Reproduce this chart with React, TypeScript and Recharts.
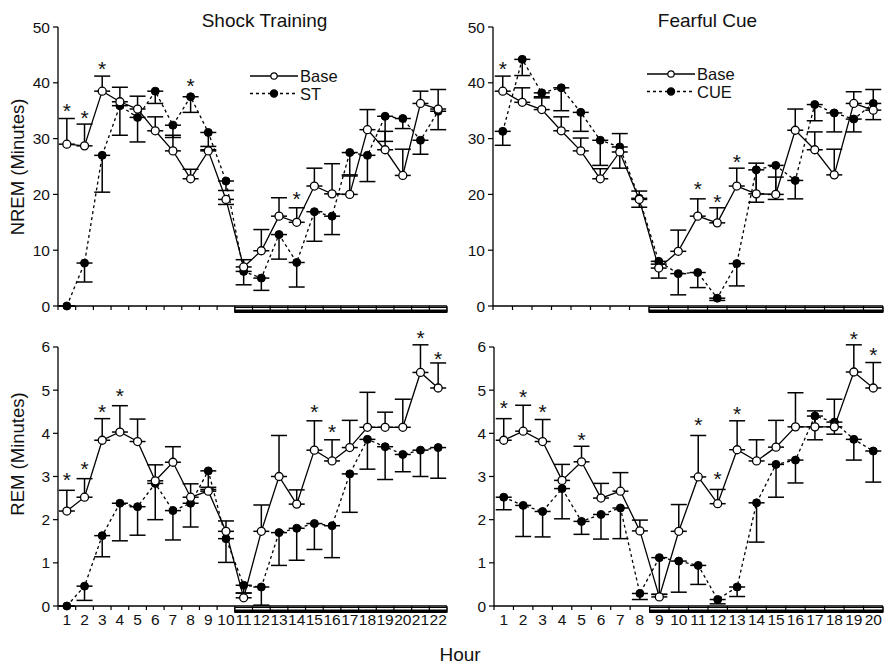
import * as React from "react";
import { ComposedChart, Line, Scatter, XAxis, YAxis, ErrorBar, ReferenceArea, ReferenceLine, Legend } from "recharts";

const FONT = '"Liberation Sans", Arial, Helvetica, sans-serif';

// hours on the x axis
const shockHours = [1, 2, 3, 4, 5, 6, 7, 8, 9, 10, 11, 12, 13, 14, 15, 16, 17, 18, 19, 20, 21, 22];
const cueHours = [1, 2, 3, 4, 5, 6, 7, 8, 9, 10, 11, 12, 13, 14, 15, 16, 17, 18, 19, 20];

// NREM, shock training
const nremShockBase = [29.0, 28.7, 38.5, 36.6, 35.3, 31.4, 27.8, 22.8, 27.8, 19.1, 7.0, 9.9, 16.1, 15.0, 21.5, 20.1, 20.0, 31.6, 28.0, 23.4, 36.3, 35.3];
const nremShockBaseErr = [33.6, 32.6, 41.2, 39.2, 37.6, 33.9, 30.6, 24.5, 28.6, 18.2, 8.3, 13.7, 19.4, 17.6, 24.7, 25.5, 23.3, 35.2, 31.3, 28.1, 38.5, 38.8];
const nremShockST = [0, 7.7, 27.0, 35.9, 33.8, 38.5, 32.4, 37.5, 31.1, 22.4, 6.2, 5.0, 12.8, 7.8, 16.9, 16.1, 27.5, 27.0, 34.0, 33.6, 29.7, 34.9];
const nremShockSTErr = [0, 4.3, 20.4, 30.6, 29.4, 36.3, 30.2, 34.7, 28.0, 20.7, 3.8, 2.8, 8.4, 3.4, 11.6, 12.8, 23.5, 22.3, 29.5, 31.8, 27.2, 31.6];
const nremShockStarHours = [1, 2, 3, 8, 14];
const nremShockStarLevels = [35.8, 34.6, 43.3, 40.3, 20.0];

// NREM, fearful cue
const nremCueBase = [38.5, 36.5, 35.2, 31.4, 27.8, 22.8, 27.6, 19.1, 6.8, 9.8, 16.1, 14.9, 21.5, 20.1, 20.0, 31.5, 28.0, 23.5, 36.3, 35.1];
const nremCueBaseErr = [41.2, 39.1, 37.3, 33.9, 30.1, 24.6, 30.9, 20.6, 7.5, 13.6, 19.2, 17.6, 24.7, 25.6, 23.1, 35.3, 31.2, 28.1, 38.4, 38.8];
const nremCueCUE = [31.3, 44.2, 38.2, 39.1, 34.7, 29.7, 28.5, 19.3, 8.0, 5.8, 6.0, 1.4, 7.6, 24.4, 25.2, 22.5, 36.1, 34.6, 33.5, 36.3];
const nremCueCUEErr = [28.8, 41.3, 37.5, 35.0, 31.3, 25.2, 24.7, 17.7, 5.0, 2.0, 3.3, 1.0, 3.6, 18.6, 19.1, 19.2, 33.2, 31.2, 31.2, 33.4];
const nremCueStarHours = [1, 11, 12, 13];
const nremCueStarLevels = [43.4, 21.8, 19.5, 26.7];

// REM, shock training
const remShockBase = [2.20, 2.52, 3.84, 4.03, 3.81, 2.90, 3.33, 2.52, 2.66, 1.73, 0.19, 1.73, 3.00, 2.36, 3.61, 3.36, 3.67, 4.14, 4.14, 4.14, 5.41, 5.05];
const remShockBaseErr = [2.68, 2.95, 4.34, 4.64, 4.33, 3.27, 3.69, 2.83, 2.75, 1.97, 0.30, 2.34, 3.95, 2.69, 4.29, 3.85, 4.30, 4.95, 4.49, 4.79, 6.05, 5.63];
const remShockST = [0, 0.46, 1.63, 2.38, 2.30, 2.84, 2.21, 2.38, 3.13, 1.56, 0.48, 0.44, 1.70, 1.80, 1.91, 1.86, 3.06, 3.86, 3.69, 3.51, 3.61, 3.67];
const remShockSTErr = [0, 0.13, 1.14, 1.51, 1.64, 2.00, 1.53, 1.83, 2.70, 1.01, 0.30, 0.02, 0.94, 1.06, 1.31, 1.12, 2.17, 3.17, 2.93, 3.11, 3.00, 2.96];
const remShockStarHours = [1, 2, 3, 4, 15, 16, 21, 22];
const remShockStarLevels = [3.03, 3.28, 4.60, 4.98, 4.61, 4.14, 6.32, 5.84];

// REM, fearful cue
const remCueBase = [3.84, 4.05, 3.81, 2.91, 3.34, 2.50, 2.66, 1.74, 0.21, 1.73, 2.99, 2.37, 3.62, 3.36, 3.68, 4.15, 4.15, 4.15, 5.42, 5.05];
const remCueBaseErr = [4.34, 4.65, 4.32, 3.28, 3.70, 2.84, 3.09, 1.99, 0.27, 2.35, 3.95, 2.70, 4.29, 3.85, 4.30, 4.94, 4.52, 4.79, 6.05, 5.64];
const remCueCUE = [2.52, 2.33, 2.19, 2.72, 1.96, 2.12, 2.27, 0.29, 1.12, 1.04, 0.94, 0.15, 0.44, 2.39, 3.28, 3.38, 4.40, 4.26, 3.86, 3.59];
const remCueCUEErr = [2.23, 1.61, 1.60, 2.02, 1.66, 1.55, 1.56, 0.15, 0.27, 0.32, 0.50, 0.05, 0.22, 1.48, 2.52, 2.85, 3.85, 3.98, 3.38, 2.87];
const remCueStarHours = [1, 2, 3, 5, 11, 12, 13, 19, 20];
const remCueStarLevels = [4.70, 4.96, 4.60, 3.95, 4.32, 3.05, 4.57, 6.31, 5.94];

const nremTicks = [0, 10, 20, 30, 40, 50];
const remTicks = [0, 1, 2, 3, 4, 5, 6];

// one-sided error bar: [down, up] from the mean to the end of the bar
const errPair = (v: number, end: number) => (end >= v ? [0, end - v] : [v - end, 0]);

function buildRows(hours: number[], base: number[], baseEnd: number[], treat: number[], treatEnd: number[]) {
  return hours.map((h, i) => ({
    hour: h,
    base: base[i],
    treat: treat[i],
    baseErr: errPair(base[i], baseEnd[i]),
    treatErr: errPair(treat[i], treatEnd[i]),
  }));
}

const buildStars = (hours: number[], levels: number[]) => hours.map((h, i) => ({ hour: h, star: levels[i] }));

const HourTick = (props: any) => {
  const { x, y, payload, showLabels } = props;
  const v = payload.value;
  if (!Number.isInteger(v)) {
    return <line x1={x} y1={y} x2={x} y2={y + 4} stroke="#000" strokeWidth={1.2} />;
  }
  if (!showLabels) return <g />;
  return (
    <text x={x} y={y + 19} textAnchor="middle" fontSize={15.5} fontFamily={FONT} fill="#111">
      {v}
    </text>
  );
};

const StarMark = (props: any) => {
  const { cx, cy } = props;
  return (
    <text x={cx} y={cy + 12} textAnchor="middle" fontSize={21} fontFamily={FONT} fill="#111">
      *
    </text>
  );
};

const LegendBox = ({ payload }: any) => {
  const items = (payload || []).filter((p: any) => p.type !== "none" && (p.dataKey === "base" || p.dataKey === "treat"));
  items.sort((a: any) => (a.dataKey === "base" ? -1 : 1));
  return (
    <svg width={110} height={40} style={{ overflow: "visible" }}>
      {items.map((it: any, i: number) => {
        const cy = 9 + i * 17.5;
        const isBase = it.dataKey === "base";
        return (
          <g key={it.value}>
            <line x1={2} y1={cy} x2={50} y2={cy} stroke="#000" strokeWidth={1.3} strokeDasharray={isBase ? undefined : "3 3"} />
            <circle cx={26} cy={cy} r={isBase ? 3.2 : 3.6} fill={isBase ? "#fff" : "#000"} stroke="#000" strokeWidth={1.2} />
            <text x={52} y={cy + 6} fontSize={16.5} fontFamily={FONT} fill="#111">
              {it.value}
            </text>
          </g>
        );
      })}
    </svg>
  );
};

type PanelProps = {
  left: number;
  top: number;
  width: number;
  height: number;
  margin: { top: number; right: number; bottom: number; left: number };
  yAxisWidth: number;
  xAxisHeight: number;
  hours: number[];
  rows: any[];
  stars: any[];
  treatName: string;
  darkFrom: number;
  yMax: number;
  axisTop: number;
  yTicks: number[];
  showLabels: boolean;
  legendPos?: { left: number; top: number };
};

function Panel(p: PanelProps) {
  const xMin = 0.5;
  const xMax = p.hours[p.hours.length - 1] + 0.5;
  const bounds = [xMin, ...p.hours.map((h) => h + 0.5)];
  const xTicks = p.showLabels ? [...bounds, ...p.hours].sort((a, b) => a - b) : bounds;
  const plotH = p.height - p.margin.top - p.margin.bottom - p.xAxisHeight;
  const u = p.yMax / plotH; // data units per pixel
  return (
    <div style={{ position: "absolute", left: p.left, top: p.top }}>
      <ComposedChart width={p.width} height={p.height} data={p.rows} margin={p.margin}>
        <XAxis
          type="number"
          dataKey="hour"
          domain={[xMin, xMax]}
          ticks={xTicks}
          interval={0}
          height={p.xAxisHeight}
          tickSize={0}
          tickMargin={0}
          tickLine={false}
          axisLine={{ stroke: "#000", strokeWidth: 1.3 }}
          tick={(tp: any) => <HourTick {...tp} showLabels={p.showLabels} />}
        />
        <YAxis
          type="number"
          domain={[0, p.yMax]}
          ticks={p.yTicks}
          interval={0}
          width={p.yAxisWidth}
          tickSize={5}
          tickMargin={3}
          axisLine={false}
          tickLine={{ stroke: "#000", strokeWidth: 1.2 }}
          tick={{ fontSize: 15.5, fill: "#111", fontFamily: FONT }}
        />
        <ReferenceLine
          segment={[
            { x: xMin, y: 0 },
            { x: xMin, y: p.axisTop },
          ]}
          stroke="#000"
          strokeWidth={1.3}
          ifOverflow="visible"
        />
        <ReferenceArea
          x1={p.darkFrom}
          x2={xMax}
          y1={-1.5 * u}
          y2={-6.5 * u}
          ifOverflow="visible"
          fill="#fff"
          fillOpacity={0}
          stroke="#000"
          strokeWidth={1}
        />
        <ReferenceArea
          x1={p.darkFrom}
          x2={xMax}
          y1={-4 * u}
          y2={-6.5 * u}
          ifOverflow="visible"
          fill="#000"
          fillOpacity={1}
          stroke="#000"
          strokeWidth={1}
        />
        <Line
          dataKey="treat"
          name={p.treatName}
          stroke="#000"
          strokeWidth={1.3}
          strokeDasharray="3 3"
          dot={{ r: 4, fill: "#000", stroke: "#000", strokeWidth: 1, strokeDasharray: "" }}
          activeDot={false}
          isAnimationActive={false}
        >
          <ErrorBar dataKey="treatErr" direction="y" width={8} stroke="#000" strokeWidth={1.5} />
        </Line>
        <Line
          dataKey="base"
          name="Base"
          stroke="#000"
          strokeWidth={1.3}
          dot={{ r: 4, fill: "#fff", stroke: "#000", strokeWidth: 1.3 }}
          activeDot={false}
          isAnimationActive={false}
        >
          <ErrorBar dataKey="baseErr" direction="y" width={8} stroke="#000" strokeWidth={1.5} />
        </Line>
        <Scatter data={p.stars} dataKey="star" shape={StarMark} legendType="none" isAnimationActive={false} />
        {p.legendPos && (
          <Legend
            layout="vertical"
            align="center"
            verticalAlign="middle"
            content={LegendBox}
            wrapperStyle={{ left: p.legendPos.left, top: p.legendPos.top, width: 110, height: 40 }}
          />
        )}
      </ComposedChart>
    </div>
  );
}

export default function App() {
  const nremShockRows = buildRows(shockHours, nremShockBase, nremShockBaseErr, nremShockST, nremShockSTErr);
  const nremCueRows = buildRows(cueHours, nremCueBase, nremCueBaseErr, nremCueCUE, nremCueCUEErr);
  const remShockRows = buildRows(shockHours, remShockBase, remShockBaseErr, remShockST, remShockSTErr);
  const remCueRows = buildRows(cueHours, remCueBase, remCueBaseErr, remCueCUE, remCueCUEErr);

  return (
    <div style={{ position: "absolute", left: 0, top: 0, width: 884, height: 664, background: "#fff", overflow: "hidden" }}>
      <Panel
        left={0}
        top={0}
        width={450}
        height={330}
        margin={{ top: 27, right: 3, bottom: 0, left: 0 }}
        yAxisWidth={58}
        xAxisHeight={24}
        hours={shockHours}
        rows={nremShockRows}
        stars={buildStars(nremShockStarHours, nremShockStarLevels)}
        treatName="ST"
        darkFrom={10.5}
        yMax={50}
        axisTop={50}
        yTicks={nremTicks}
        showLabels={false}
        legendPos={{ left: 248, top: 67 }}
      />
      <Panel
        left={440}
        top={0}
        width={444}
        height={330}
        margin={{ top: 27, right: 1, bottom: 0, left: 0 }}
        yAxisWidth={53}
        xAxisHeight={24}
        hours={cueHours}
        rows={nremCueRows}
        stars={buildStars(nremCueStarHours, nremCueStarLevels)}
        treatName="CUE"
        darkFrom={8.5}
        yMax={50}
        axisTop={50}
        yTicks={nremTicks}
        showLabels={false}
        legendPos={{ left: 205, top: 65 }}
      />
      <Panel
        left={0}
        top={320}
        width={450}
        height={344}
        margin={{ top: 5.4, right: 3, bottom: 28, left: 0 }}
        yAxisWidth={58}
        xAxisHeight={30}
        hours={shockHours}
        rows={remShockRows}
        stars={buildStars(remShockStarHours, remShockStarLevels)}
        treatName="ST"
        darkFrom={10.5}
        yMax={6.5}
        axisTop={6}
        yTicks={remTicks}
        showLabels={true}
      />
      <Panel
        left={440}
        top={320}
        width={444}
        height={344}
        margin={{ top: 5.4, right: 1, bottom: 28, left: 0 }}
        yAxisWidth={54}
        xAxisHeight={30}
        hours={cueHours}
        rows={remCueRows}
        stars={buildStars(remCueStarHours, remCueStarLevels)}
        treatName="CUE"
        darkFrom={8.5}
        yMax={6.5}
        axisTop={6}
        yTicks={remTicks}
        showLabels={true}
      />
      <svg width={884} height={664} style={{ position: "absolute", left: 0, top: 0, pointerEvents: "none" }}>
        <text x={264.5} y={26.5} textAnchor="middle" fontSize={19} fontFamily={FONT} fill="#111">
          Shock Training
        </text>
        <text x={707.5} y={26.5} textAnchor="middle" fontSize={19} fontFamily={FONT} fill="#111">
          Fearful Cue
        </text>
        <text x={18} y={173} transform="rotate(-90, 18, 167)" textAnchor="middle" fontSize={18.5} fontFamily={FONT} fill="#111">
          NREM (Minutes)
        </text>
        <text x={18} y={460} transform="rotate(-90, 18, 454)" textAnchor="middle" fontSize={18.5} fontFamily={FONT} fill="#111">
          REM (Minutes)
        </text>
        <text x={460} y={661} textAnchor="middle" fontSize={19} fontFamily={FONT} fill="#111">
          Hour
        </text>
      </svg>
    </div>
  );
}
